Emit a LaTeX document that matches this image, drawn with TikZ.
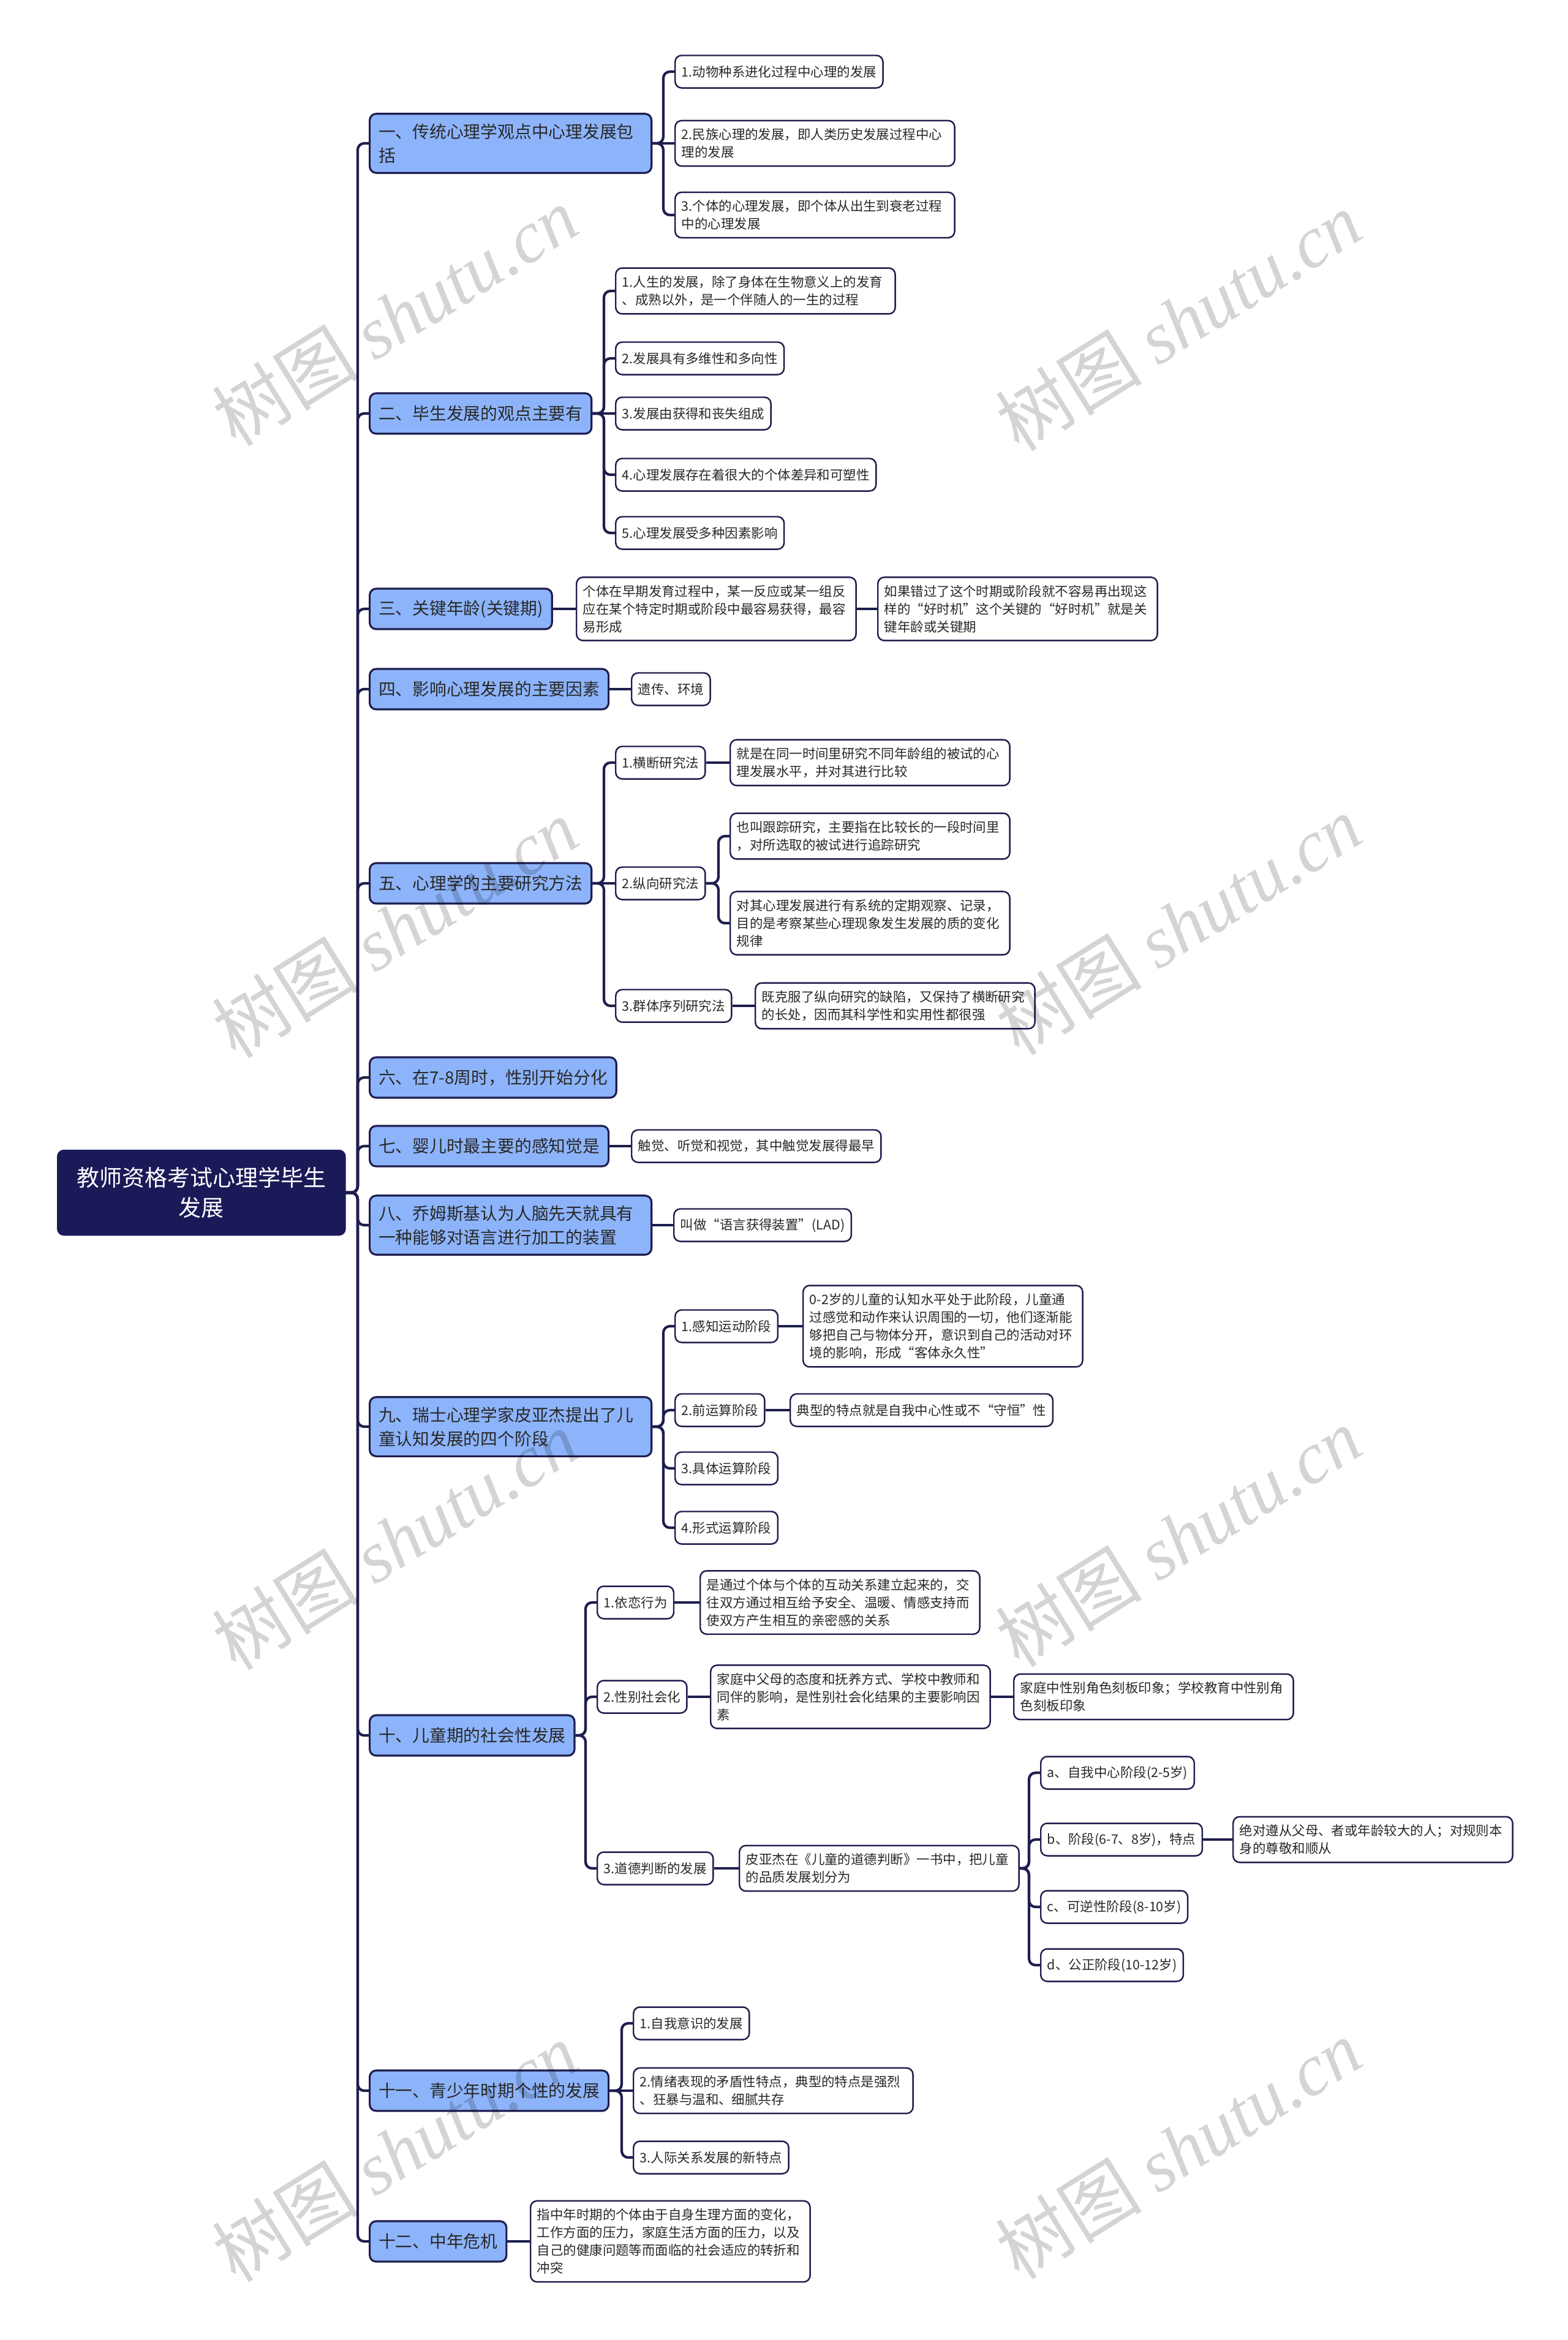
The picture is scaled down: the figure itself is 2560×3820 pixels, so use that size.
\documentclass[tikz,border=0pt]{standalone}
\usepackage{fontspec}
\setmainfont{Noto Sans CJK SC}
\newfontfamily\markfont{Liberation Serif}
\usetikzlibrary{positioning}
\definecolor{rootfill}{RGB}{27,26,88}
\definecolor{topicfill}{RGB}{141,180,250}
\definecolor{linecol}{RGB}{30,30,78}
\definecolor{textcol}{RGB}{40,40,40}
\tikzset{
  rootbox/.style={anchor=west, rounded corners=3pt, fill=rootfill, draw=rootfill, text=white, align=center,
    minimum width=4.7cm, minimum height=1.39cm, font=\fontsize{10.5}{13.9}\selectfont},
  topic/.style={anchor=west, rounded corners=3pt, fill=topicfill, draw=linecol, line width=0.9pt, text=textcol,
    align=left, inner xsep=4.1pt, inner ysep=4.5pt, minimum height=0.66cm, font=\fontsize{7.9}{11.1}\selectfont},
  leaf/.style={anchor=west, rounded corners=3pt, fill=white, draw=linecol, line width=0.7pt, text=textcol,
    align=left, inner xsep=3pt, inner ysep=3.6pt, minimum height=0.53cm, font=\fontsize{6.1}{8.25}\selectfont},
  wide/.style={text width=4.35cm},
  link/.style={draw=linecol, line width=1.2pt, rounded corners=3pt},
  wmark/.style={black, opacity=0.17, rotate=32, font=\fontsize{34}{34}\selectfont},
}
\newcommand{\branch}[2]{%
  \draw[link] (#1.east) -| ([xshift=-0.18cm]#2.west) -- (#2.west);
}
\newcommand{\straight}[2]{%
  \draw[link] (#1.east) -- (#2.west);
}

\begin{document}
\begin{tikzpicture}[x=0.01cm, y=-0.01cm]
    \useasboundingbox (0,0) rectangle (2560,3820);

    % root and main topics
    \node[rootbox] (root) at (93,1947) {教师资格考试心理学毕生\\发展};
    \node[topic, text width=4.31cm] (t1) at (602,234) {一、传统心理学观点中心理发展包\\括};
    \node[topic] (t2) at (602,675) {二、毕生发展的观点主要有};
    \node[topic] (t3) at (602,994) {三、关键年龄(关键期)};
    \node[topic] (t4) at (602,1125) {四、影响心理发展的主要因素};
    \node[topic] (t5) at (602,1442) {五、心理学的主要研究方法};
    \node[topic] (t6) at (602,1759) {六、在7-8周时，性别开始分化};
    \node[topic] (t7) at (602,1871) {七、婴儿时最主要的感知觉是};
    \node[topic, text width=4.31cm] (t8) at (602,2000) {八、乔姆斯基认为人脑先天就具有\\一种能够对语言进行加工的装置};
    \node[topic, text width=4.31cm] (t9) at (602,2329) {九、瑞士心理学家皮亚杰提出了儿\\童认知发展的四个阶段};
    \node[topic] (t10) at (602,2833) {十、儿童期的社会性发展};
    \node[topic] (t11) at (602,3413) {十一、青少年时期个性的发展};
    \node[topic] (t12) at (602,3659) {十二、中年危机};

    % one
    \node[leaf] (a11) at (1101,117) {1.动物种系进化过程中心理的发展};
    \node[leaf, wide] (a12) at (1101,234) {2.民族心理的发展，即人类历史发展过程中心\\理的发展};
    \node[leaf, wide] (a13) at (1101,351) {3.个体的心理发展，即个体从出生到衰老过程\\中的心理发展};

    % two
    \node[leaf, wide] (b21) at (1004,475) {1.人生的发展，除了身体在生物意义上的发育\\、成熟以外，是一个伴随人的一生的过程};
    \node[leaf] (b22) at (1004,585) {2.发展具有多维性和多向性};
    \node[leaf] (b23) at (1004,675) {3.发展由获得和丧失组成};
    \node[leaf] (b24) at (1004,775) {4.心理发展存在着很大的个体差异和可塑性};
    \node[leaf] (b25) at (1004,870) {5.心理发展受多种因素影响};

    % three, four
    \node[leaf, wide] (c31) at (940,994) {个体在早期发育过程中，某一反应或某一组反\\应在某个特定时期或阶段中最容易获得，最容\\易形成};
    \node[leaf, wide] (c32) at (1432,994) {如果错过了这个时期或阶段就不容易再出现这\\样的“好时机”这个关键的“好时机”就是关\\键年龄或关键期};
    \node[leaf] (d41) at (1030,1125) {遗传、环境};

    % five
    \node[leaf] (e51) at (1004,1245) {1.横断研究法};
    \node[leaf, wide] (e51a) at (1191,1245) {就是在同一时间里研究不同年龄组的被试的心\\理发展水平，并对其进行比较};
    \node[leaf] (e52) at (1004,1442) {2.纵向研究法};
    \node[leaf, wide] (e52a) at (1191,1365) {也叫跟踪研究，主要指在比较长的一段时间里\\，对所选取的被试进行追踪研究};
    \node[leaf, wide] (e52b) at (1191,1507) {对其心理发展进行有系统的定期观察、记录，\\目的是考察某些心理现象发生发展的质的变化\\规律};
    \node[leaf] (e53) at (1004,1642) {3.群体序列研究法};
    \node[leaf, wide] (e53a) at (1232,1642) {既克服了纵向研究的缺陷，又保持了横断研究\\的长处，因而其科学性和实用性都很强};

    % seven, eight
    \node[leaf] (g71) at (1030,1871) {触觉、听觉和视觉，其中触觉发展得最早};
    \node[leaf] (h81) at (1099,2000) {叫做“语言获得装置”(LAD)};

    % nine
    \node[leaf] (i91) at (1101,2165) {1.感知运动阶段};
    \node[leaf, wide] (i91a) at (1310,2165) {0-2岁的儿童的认知水平处于此阶段，儿童通\\过感觉和动作来认识周围的一切，他们逐渐能\\够把自己与物体分开，意识到自己的活动对环\\境的影响，形成“客体永久性”};
    \node[leaf] (i92) at (1101,2302) {2.前运算阶段};
    \node[leaf] (i92a) at (1289,2302) {典型的特点就是自我中心性或不“守恒”性};
    \node[leaf] (i93) at (1101,2397) {3.具体运算阶段};
    \node[leaf] (i94) at (1101,2494) {4.形式运算阶段};

    % ten
    \node[leaf] (j1) at (974,2616) {1.依恋行为};
    \node[leaf, wide] (j1a) at (1142,2616) {是通过个体与个体的互动关系建立起来的，交\\往双方通过相互给予安全、温暖、情感支持而\\使双方产生相互的亲密感的关系};
    \node[leaf] (j2) at (974,2770) {2.性别社会化};
    \node[leaf, wide] (j2a) at (1159,2770) {家庭中父母的态度和抚养方式、学校中教师和\\同伴的影响，是性别社会化结果的主要影响因\\素};
    \node[leaf, wide] (j2b) at (1654,2770) {家庭中性别角色刻板印象；学校教育中性别角\\色刻板印象};
    \node[leaf] (j3) at (974,3050) {3.道德判断的发展};
    \node[leaf, wide] (j3a) at (1206,3050) {皮亚杰在《儿童的道德判断》一书中，把儿童\\的品质发展划分为};
    \node[leaf] (ja) at (1698,2894) {a、自我中心阶段(2-5岁)};
    \node[leaf] (jb) at (1698,3003) {b、阶段(6-7、8岁)，特点};
    \node[leaf, wide] (jba) at (2012,3003) {绝对遵从父母、者或年龄较大的人；对规则本\\身的尊敬和顺从};
    \node[leaf] (jc) at (1698,3113) {c、可逆性阶段(8-10岁)};
    \node[leaf] (jd) at (1698,3208) {d、公正阶段(10-12岁)};

    % eleven, twelve
    \node[leaf] (k1) at (1033,3303) {1.自我意识的发展};
    \node[leaf, wide] (k2) at (1033,3413) {2.情绪表现的矛盾性特点，典型的特点是强烈\\、狂暴与温和、细腻共存};
    \node[leaf] (k3) at (1033,3522) {3.人际关系发展的新特点};
    \node[leaf, wide] (l1) at (865,3659) {指中年时期的个体由于自身生理方面的变化，\\工作方面的压力，家庭生活方面的压力，以及\\自己的健康问题等而面临的社会适应的转折和\\冲突};

    % links
    \branch{root}{t1} \branch{root}{t2} \branch{root}{t3} \branch{root}{t4}
    \branch{root}{t5} \branch{root}{t6} \branch{root}{t7} \branch{root}{t8}
    \branch{root}{t9} \branch{root}{t10} \branch{root}{t11} \branch{root}{t12}
    \branch{t1}{a11} \straight{t1}{a12} \branch{t1}{a13}
    \branch{t2}{b21} \branch{t2}{b22} \straight{t2}{b23} \branch{t2}{b24} \branch{t2}{b25}
    \straight{t3}{c31} \straight{c31}{c32}
    \straight{t4}{d41}
    \branch{t5}{e51} \straight{t5}{e52} \branch{t5}{e53}
    \straight{e51}{e51a} \branch{e52}{e52a} \branch{e52}{e52b} \straight{e53}{e53a}
    \straight{t7}{g71}
    \straight{t8}{h81}
    \branch{t9}{i91} \branch{t9}{i92} \branch{t9}{i93} \branch{t9}{i94}
    \straight{i91}{i91a} \straight{i92}{i92a}
    \branch{t10}{j1} \branch{t10}{j2} \branch{t10}{j3}
    \straight{j1}{j1a} \straight{j2}{j2a} \straight{j2a}{j2b} \straight{j3}{j3a}
    \branch{j3a}{ja} \branch{j3a}{jb} \branch{j3a}{jc} \branch{j3a}{jd}
    \straight{jb}{jba}
    \branch{t11}{k1} \straight{t11}{k2} \branch{t11}{k3}
    \straight{t12}{l1}

    % watermark
    \node[wmark] (wm1) at (645,516) {树图 {\markfont\itshape shutu.cn}};
    \node[wmark] (wm2) at (1924,524) {树图 {\markfont\itshape shutu.cn}};
    \node[wmark] (wm3) at (645,1515) {树图 {\markfont\itshape shutu.cn}};
    \node[wmark] (wm4) at (1924,1510) {树图 {\markfont\itshape shutu.cn}};
    \node[wmark] (wm5) at (645,2514) {树图 {\markfont\itshape shutu.cn}};
    \node[wmark] (wm6) at (1924,2509) {树图 {\markfont\itshape shutu.cn}};
    \node[wmark] (wm7) at (645,3513) {树图 {\markfont\itshape shutu.cn}};
    \node[wmark] (wm8) at (1924,3508) {树图 {\markfont\itshape shutu.cn}};
\end{tikzpicture}
\end{document}
